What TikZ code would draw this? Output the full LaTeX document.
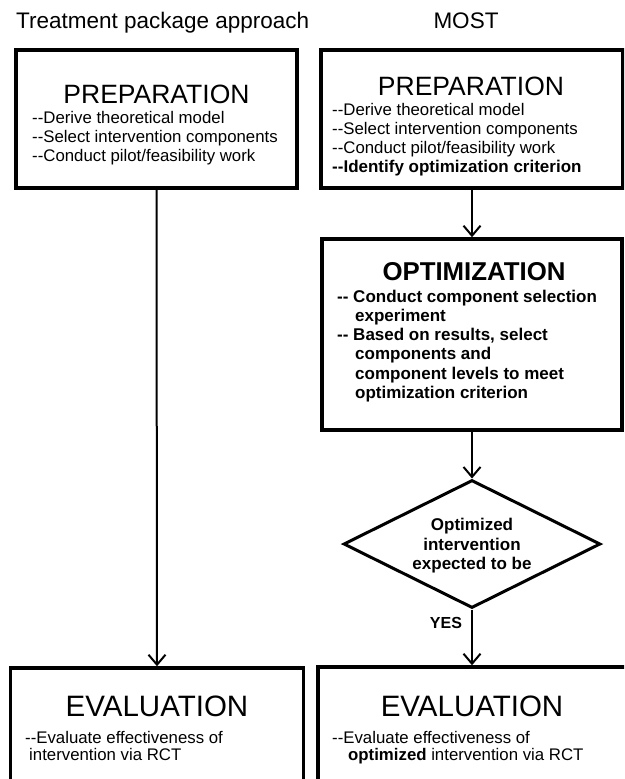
\documentclass[tikz,border=0pt]{standalone}
\usepackage{fontspec}
\newfontfamily\arial{Liberation Sans}
\usetikzlibrary{arrows.meta,shapes.geometric}
\tikzset{
  boxa/.style={draw, line width=3.5pt, rectangle, inner sep=0pt},
  arr/.style={line width=2pt, -{Straight Barb[length=10pt,width=17pt,line width=2pt]}},
  ttl/.style={inner sep=0pt, anchor=base, font=\arial\fontsize{22.5}{26}\selectfont},
  head/.style={inner sep=0pt, anchor=base, font=\arial\fontsize{26.5}{30}\selectfont},
  evhead/.style={inner sep=0pt, anchor=base, font=\arial\fontsize{29.5}{33}\selectfont},
  opthead/.style={inner sep=0pt, anchor=base, font=\arial\bfseries\fontsize{25.8}{30}\selectfont},
  txt/.style={inner sep=0pt, anchor=base west, font=\arial\fontsize{16.8}{19}\selectfont},
  btxt/.style={inner sep=0pt, anchor=base west, font=\arial\bfseries\fontsize{17}{19}\selectfont},
  ctxt/.style={inner sep=0pt, anchor=base, font=\arial\bfseries\fontsize{17}{19}\selectfont},
}
\begin{document}
\begin{tikzpicture}[x=1pt,y=-1pt]
\useasboundingbox (0,0) rectangle (624,779);
\fill[white] (0,0) rectangle (624,779);
\clip (0,0) rectangle (624,779);

% titles
\node[ttl, anchor=base west] (t1) at (16,28) {Treatment package approach};
\node[ttl] (t2) at (466,28) {MOST};

% boxes
\node[boxa, minimum width=281pt, minimum height=138pt] (lp) at (156.5,119) {};
\node[boxa, minimum width=302pt, minimum height=138pt] (rp) at (472,119) {};
\node[boxa, minimum width=300pt, minimum height=191pt] (opt) at (472,334.5) {};
\node[draw, diamond, line width=3pt, inner sep=0pt, minimum width=257pt, minimum height=128pt] (dia) at (472,544) {};
\node[boxa, minimum width=293pt, minimum height=140pt] (le) at (157,738) {};
\node[boxa, minimum width=322pt, minimum height=140pt] (re) at (479,737) {};

% left preparation text
\node[head] (lph) at (156.5,103) {PREPARATION};
\node[txt] (lp1) at (32,123) {--Derive theoretical model};
\node[txt] (lp2) at (32,142) {--Select intervention components};
\node[txt] (lp3) at (32,161) {--Conduct pilot/feasibility work};

% right preparation text
\node[head] (rph) at (471,95) {PREPARATION};
\node[txt] (rp1) at (332,115) {--Derive theoretical model};
\node[txt] (rp2) at (332,134) {--Select intervention components};
\node[txt] (rp3) at (332,153) {--Conduct pilot/feasibility work};
\node[btxt] (rp4) at (332,172) {--Identify optimization criterion};

% optimization text
\node[opthead] (oph) at (474,280) {OPTIMIZATION};
\node[btxt] (op1) at (337,302) {-- Conduct component selection};
\node[btxt] (op2) at (355,321) {experiment};
\node[btxt] (op3) at (337,340) {-- Based on results, select};
\node[btxt] (op4) at (355,359) {components and};
\node[btxt] (op5) at (355,379) {component levels to meet};
\node[btxt] (op6) at (355,398) {optimization criterion};

% diamond text
\node[ctxt] (d1) at (472,530) {Optimized};
\node[ctxt] (d2) at (472,550) {intervention};
\node[ctxt] (d3) at (472,569) {expected to be};

% evaluation text
\node[evhead] (leh) at (157,716) {EVALUATION};
\node[txt] (le1) at (25,743) {--Evaluate effectiveness of};
\node[txt] (le2) at (29,760) {intervention via RCT};
\node[evhead] (reh) at (472,716) {EVALUATION};
\node[txt] (re1) at (332,743) {--Evaluate effectiveness of};
\node[txt] (re2) at (348,760) {\bfseries optimized\mdseries{} intervention via RCT};

% connectors
\draw[arr] (lp.south) -- (le.north);
\draw[arr] (rp.south) -- (opt.north);
\draw[arr] (opt.south) -- (dia.north);
\draw[arr] (dia.south) -- (dia.south |- re.north);
\node[ctxt, font=\arial\bfseries\fontsize{16}{19}\selectfont] (yes) at (446,628) {YES};
\end{tikzpicture}
\end{document}
